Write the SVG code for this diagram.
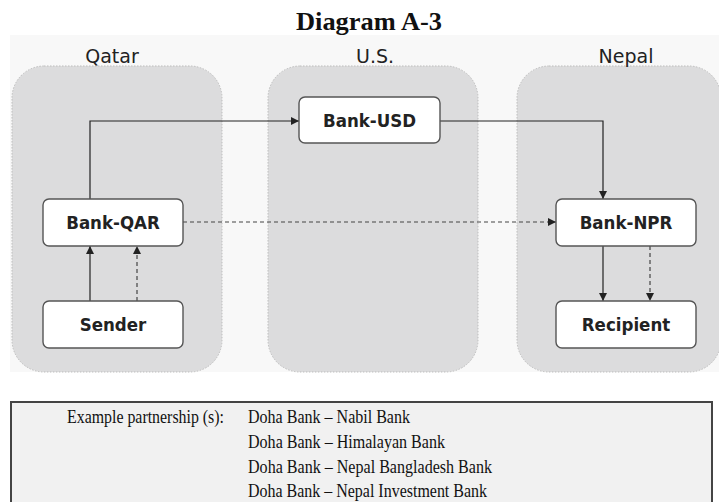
<svg xmlns="http://www.w3.org/2000/svg" width="719" height="502" viewBox="0 0 719 502">
<defs>
<style>
.zone{fill:#dcdcdd;stroke:#bdbdbd;stroke-width:1;stroke-dasharray:1.5 1.5}
.node{fill:#ffffff;stroke:#555;stroke-width:1.4}
.nlabel{font-family:"DejaVu Sans Condensed","DejaVu Sans",sans-serif;font-weight:bold;font-size:18.5px;fill:#222;text-anchor:middle}
.zlabel{font-family:"DejaVu Sans",sans-serif;font-size:19px;fill:#222;text-anchor:middle}
.solid{fill:none;stroke:#222;stroke-width:1.2}
.dash{fill:none;stroke:#444;stroke-width:1.2;stroke-dasharray:4 3}
.serif{font-family:"Liberation Serif","Times New Roman",serif;fill:#111}
.row{font-size:19px}
</style>
<marker id="ah" viewBox="0 0 10 10" refX="10" refY="5" markerWidth="8" markerHeight="8" markerUnits="userSpaceOnUse" orient="auto">
<path d="M0,0 L10,5 L0,10 z" fill="#222"/>
</marker>
</defs>
<rect width="719" height="502" fill="#ffffff"/>
<text class="serif" x="296" y="30" font-size="26" font-weight="bold" textLength="146" lengthAdjust="spacingAndGlyphs">Diagram A-3</text>
<rect x="10" y="35" width="709" height="337" fill="#f8f8f8"/>

<g id="zone-qatar">
<rect class="zone" x="12" y="66" width="210" height="306" rx="32"/>
<text class="zlabel" x="112" y="63">Qatar</text>
</g>
<g id="zone-us">
<rect class="zone" x="268" y="66" width="210" height="306" rx="32"/>
<text class="zlabel" x="375" y="63">U.S.</text>
</g>
<g id="zone-nepal">
<rect class="zone" x="517" y="66" width="204" height="306" rx="32"/>
<text class="zlabel" x="626" y="63">Nepal</text>
</g>

<g id="connectors">
<path class="solid" d="M90,199 V121 H299" marker-end="url(#ah)"/>
<path class="solid" d="M440,121 H603 V199" marker-end="url(#ah)"/>
<path class="dash" d="M183,222 H556" marker-end="url(#ah)"/>
<path class="solid" d="M90,301 V246" marker-end="url(#ah)"/>
<path class="dash" d="M137,301 V246" marker-end="url(#ah)"/>
<path class="solid" d="M603,246 V301" marker-end="url(#ah)"/>
<path class="dash" d="M650,246 V301" marker-end="url(#ah)"/>
</g>

<g id="node-bank-usd">
<rect class="node" x="299" y="97" width="141" height="46" rx="6"/>
<text class="nlabel" x="369.5" y="127">Bank-USD</text>
</g>
<g id="node-bank-qar">
<rect class="node" x="43" y="199" width="140" height="47" rx="6"/>
<text class="nlabel" x="113" y="229">Bank-QAR</text>
</g>
<g id="node-sender">
<rect class="node" x="43" y="301" width="140" height="47" rx="6"/>
<text class="nlabel" x="113" y="331">Sender</text>
</g>
<g id="node-bank-npr">
<rect class="node" x="556" y="199" width="140" height="47" rx="6"/>
<text class="nlabel" x="626" y="229">Bank-NPR</text>
</g>
<g id="node-recipient">
<rect class="node" x="556" y="301" width="140" height="47" rx="6"/>
<text class="nlabel" x="626" y="331">Recipient</text>
</g>

<g id="table">
<rect x="11" y="402" width="701" height="110" fill="#f1f1f1" stroke="#444" stroke-width="2"/>
<text class="serif row" x="67" y="423" textLength="157" lengthAdjust="spacingAndGlyphs">Example partnership (s):</text>
<text class="serif row" x="248" y="423" textLength="162" lengthAdjust="spacingAndGlyphs">Doha Bank – Nabil Bank</text>
<text class="serif row" x="248" y="448" textLength="197" lengthAdjust="spacingAndGlyphs">Doha Bank – Himalayan Bank</text>
<text class="serif row" x="248" y="473" textLength="244" lengthAdjust="spacingAndGlyphs">Doha Bank – Nepal Bangladesh Bank</text>
<text class="serif row" x="248" y="497" textLength="239" lengthAdjust="spacingAndGlyphs">Doha Bank – Nepal Investment Bank</text>
</g>
</svg>
